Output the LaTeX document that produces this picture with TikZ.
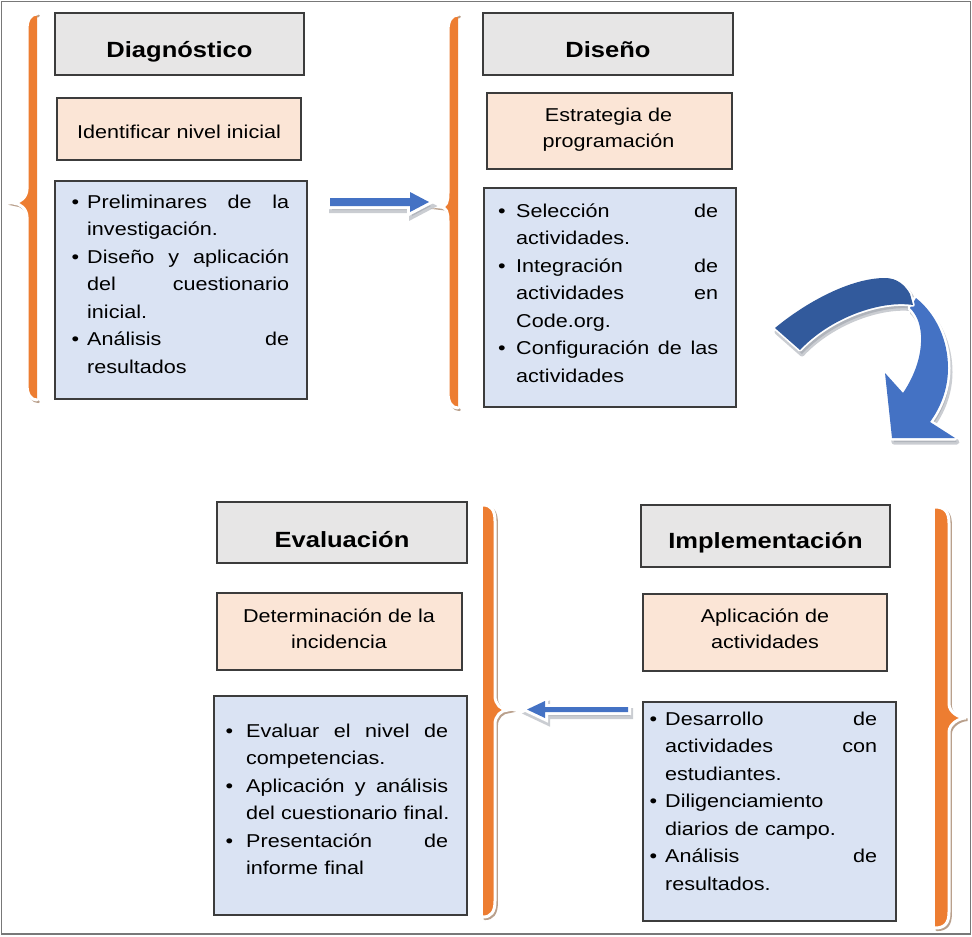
\documentclass[tikz,border=0pt]{standalone}
\usepackage{fontspec}
\setmainfont{Liberation Sans}[FakeStretch=1.16]
\definecolor{hdrfill}{RGB}{231,230,230}
\definecolor{pchfill}{RGB}{251,229,214}
\definecolor{blufill}{RGB}{218,227,243}
\definecolor{bord}{RGB}{60,60,60}
\definecolor{orng}{RGB}{237,125,49}
\definecolor{arblue}{RGB}{68,114,196}
\definecolor{ardark}{RGB}{50,90,156}
\definecolor{ashad}{RGB}{150,155,165}
\definecolor{bshad}{RGB}{185,160,140}
\definecolor{framec}{RGB}{120,120,120}
\newlength{\bw}
\newcommand{\bi}[1]{\makebox[\bw][l]{\textbullet}#1}
\newcommand{\bc}[1]{\hspace*{\bw}#1}
\newcommand{\ornbrace}[7]{%
\begin{scope}[shift={(1.6,1.8)}]
\draw[draw=bshad, line width=2.6pt, line cap=round] (#1,#4) .. controls ({#2-(#7)*4},#4) and (#2,{#4+5}) .. (#2,{#4+16}) -- (#2,{#5-14}) .. controls (#2,{#5-6}) and ({#3-(#7)*7},#5) .. (#3,#5) .. controls ({#3-(#7)*7},#5) and (#2,{#5+6}) .. (#2,{#5+14}) -- (#2,{#6-16}) .. controls (#2,{#6-5}) and ({#2-(#7)*4},#6) .. (#1,#6);
\end{scope}
\fill[orng] (#1,#4) .. controls ({#2-(#7)*4},#4) and (#2,{#4+5}) .. (#2,{#4+16}) -- (#2,{#5-14}) .. controls (#2,{#5-6}) and ({#3-(#7)*7},#5) .. (#3,#5) .. controls ({#3-(#7)*7},#5) and (#2,{#5+6}) .. (#2,{#5+14}) -- (#2,{#6-16}) .. controls (#2,{#6-5}) and ({#2-(#7)*4},#6) .. (#1,#6) -- cycle;
\draw[white, line width=3pt, line cap=round] (#1,#4) .. controls ({#2-(#7)*4},#4) and (#2,{#4+5}) .. (#2,{#4+16}) -- (#2,{#5-14}) .. controls (#2,{#5-6}) and ({#3-(#7)*7},#5) .. (#3,#5) .. controls ({#3-(#7)*7},#5) and (#2,{#5+6}) .. (#2,{#5+14}) -- (#2,{#6-16}) .. controls (#2,{#6-5}) and ({#2-(#7)*4},#6) .. (#1,#6);
}
\tikzset{
  x=1pt, y=-1pt,
  box/.style={draw=bord, line width=1.3pt, inner sep=0pt},
  hdrbox/.style={box, fill=hdrfill},
  pchbox/.style={box, fill=pchfill},
  blubox/.style={box, fill=blufill},
  hdrtxt/.style={anchor=base, inner sep=0pt, font=\fontsize{22}{26}\selectfont\bfseries},
  bodytxt/.style={anchor=base, inner sep=0pt, align=center, font=\fontsize{18.6}{26}\selectfont},
  listtxt/.style={anchor=base west, inner sep=0pt, align=left, font=\fontsize{18.6}{27.5}\selectfont},
  arrshadow/.style={fill=ashad, draw=ashad, line width=6pt, line join=miter, opacity=0.5},
  arrwhite/.style={fill=white, draw=white, line width=6pt, line join=miter},
  cshadow/.style={fill=ashad, draw=ashad, line width=5pt, line join=round, opacity=0.5},
  cwhite/.style={fill=white, draw=white, line width=5pt, line join=round},
}
\begin{document}
\begin{tikzpicture}
\useasboundingbox (0,0) rectangle (972,937);
\draw[framec, line width=1.2pt] (1.5,1.5) rectangle (970.5,934);

% braces
\ornbrace{37}{27}{13}{14}{203}{400}{-1}
\ornbrace{458}{448}{440}{15}{207}{408}{-1}
\ornbrace{483}{495}{508}{505}{710}{917}{1}
\ornbrace{935}{949}{966}{507}{718}{928}{1}

% Diagnostico column
\node[hdrbox, minimum width=249pt, minimum height=62pt] (hA) at (179.5,44) {};
\node[hdrtxt] (hAt) at (179.5,57) {Diagnóstico};
\node[pchbox, minimum width=244pt, minimum height=62pt] (pA) at (179,129) {};
\node[bodytxt] (pAt) at (179,138) {Identificar nivel inicial};
\node[blubox, minimum width=252pt, minimum height=218pt] (lA) at (181,290) {};
\node[listtxt, text width=217.7pt] (lAt) at (71.3,208) {\setlength{\bw}{15.7pt}%
\bi{Preliminares \hfill de \hfill la}\\
\bc{investigación.}\\
\bi{Diseño \hfill y \hfill aplicación}\\
\bc{del \hfill cuestionario}\\
\bc{inicial.}\\
\bi{Análisis \hfill de}\\
\bc{resultados}};

% Diseno column
\node[hdrbox, minimum width=250pt, minimum height=62pt] (hB) at (608,44) {};
\node[hdrtxt] (hBt) at (608,57) {Diseño};
\node[pchbox, minimum width=245pt, minimum height=76pt] (pB) at (609.5,131) {};
\node[bodytxt] (pBt) at (608.5,147) {Estrategia de\\programación};
\node[blubox, minimum width=252pt, minimum height=219pt] (lB) at (610,297.5) {};
\node[listtxt, text width=220pt] (lBt) at (498,217) {\setlength{\bw}{18pt}%
\bi{Selección \hfill de}\\
\bc{actividades.}\\
\bi{Integración \hfill de}\\
\bc{actividades \hfill en}\\
\bc{Code.org.}\\
\bi{Configuración \hfill de \hfill las}\\
\bc{actividades}};

% Evaluacion column
\node[hdrbox, minimum width=250pt, minimum height=61pt] (hC) at (342,532.5) {};
\node[hdrtxt] (hCt) at (342,547) {Evaluación};
\node[pchbox, minimum width=245pt, minimum height=77pt] (pC) at (339.5,631.5) {};
\node[bodytxt] (pCt) at (339,648) {Determinación de la\\incidencia};
\node[blubox, minimum width=253pt, minimum height=219pt] (lC) at (340.5,805.5) {};
\node[listtxt, text width=222.5pt] (lCt) at (225.5,737) {\setlength{\bw}{20.5pt}%
\bi{Evaluar \hfill el \hfill nivel \hfill de}\\
\bc{competencias.}\\
\bi{Aplicación \hfill y \hfill análisis}\\
\bc{\makebox[202pt][s]{del cuestionario final.}}\\
\bi{Presentación \hfill de}\\
\bc{informe final}};

% Implementacion column
\node[hdrbox, minimum width=249pt, minimum height=62pt] (hD) at (765.5,536) {};
\node[hdrtxt] (hDt) at (765.5,548) {Implementación};
\node[pchbox, minimum width=244pt, minimum height=77pt] (pD) at (765,632.5) {};
\node[bodytxt] (pDt) at (765,648) {Aplicación de\\actividades};
\node[blubox, minimum width=253pt, minimum height=219pt] (lD) at (769.5,811.5) {};
\node[listtxt, text width=227.5pt] (lDt) at (649.5,725) {\setlength{\bw}{15.5pt}%
\bi{Desarrollo \hfill de}\\
\bc{actividades \hfill con}\\
\bc{estudiantes.}\\
\bi{Diligenciamiento}\\
\bc{diarios de campo.}\\
\bi{Análisis \hfill de}\\
\bc{resultados.}};

% straight block arrows
\begin{scope}[shift={(2,4)}]
\path[arrshadow] (330,198) -- (410,198) -- (410,192) -- (429,202) -- (410,212) -- (410,206) -- (330,206) -- cycle;
\path[arrshadow] (628,707) -- (545,707) -- (545,701) -- (527,709.5) -- (545,718) -- (545,712) -- (628,712) -- cycle;
\end{scope}
\path[arrwhite] (330,198) -- (410,198) -- (410,192) -- (429,202) -- (410,212) -- (410,206) -- (330,206) -- cycle;
\path[arrwhite] (628,707) -- (545,707) -- (545,701) -- (527,709.5) -- (545,718) -- (545,712) -- (628,712) -- cycle;
\fill[arblue] (330,198) -- (410,198) -- (410,192) -- (429,202) -- (410,212) -- (410,206) -- (330,206) -- cycle;
\fill[arblue] (628,707) -- (545,707) -- (545,701) -- (527,709.5) -- (545,718) -- (545,712) -- (628,712) -- cycle;

% curved arrow
\begin{scope}[shift={(2,4)}]
\path[cshadow] (916,298) .. controls (936,314) and (948,340) .. (948,368) .. controls (948,390) and (940,408) .. (930,422) -- (955,438) -- (892,438) -- (885,373) -- (903,393) .. controls (915,375) and (922,355) .. (921,335) .. controls (920,322) and (916,314) .. (910,308) -- cycle;
\path[cshadow] (775,328) .. controls (805,303) and (850,278) .. (885,278) .. controls (897,278) and (905,285) .. (910,294) -- (913,305) .. controls (880,300) and (830,318) .. (800,350) -- cycle;
\end{scope}
\path[cwhite] (916,298) .. controls (936,314) and (948,340) .. (948,368) .. controls (948,390) and (940,408) .. (930,422) -- (955,438) -- (892,438) -- (885,373) -- (903,393) .. controls (915,375) and (922,355) .. (921,335) .. controls (920,322) and (916,314) .. (910,308) -- cycle;
\fill[arblue] (916,298) .. controls (936,314) and (948,340) .. (948,368) .. controls (948,390) and (940,408) .. (930,422) -- (955,438) -- (892,438) -- (885,373) -- (903,393) .. controls (915,375) and (922,355) .. (921,335) .. controls (920,322) and (916,314) .. (910,308) -- cycle;
\path[cwhite, line width=3.5pt] (775,328) .. controls (805,303) and (850,278) .. (885,278) .. controls (897,278) and (905,285) .. (910,294) -- (913,305) .. controls (880,300) and (830,318) .. (800,350) -- cycle;
\fill[ardark] (775,328) .. controls (805,303) and (850,278) .. (885,278) .. controls (897,278) and (905,285) .. (910,294) -- (913,305) .. controls (880,300) and (830,318) .. (800,350) -- cycle;
\end{tikzpicture}
\end{document}
